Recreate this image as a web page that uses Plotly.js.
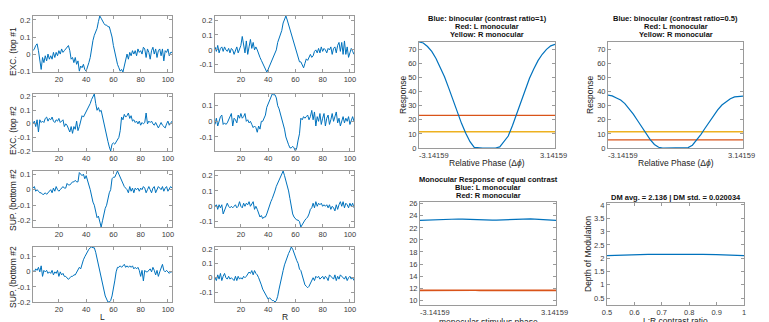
<!DOCTYPE html>
<html><head><meta charset="utf-8">
<script src="https://cdn.plot.ly/plotly-3.0.1.min.js"></script>
<style>html,body{margin:0;padding:0;background:#fff}#chart{width:769px;height:322px}</style>
</head><body><div id="chart"></div>
<script>
// ---------------- data ----------------
const excTop1L = [0.02,0.03,0.05,0.06,0.02,-0.03,-0.09,-0.02,-0.05,-0.01,
-0.04,0.00,-0.03,-0.01,-0.03,0.01,-0.02,0.01,-0.01,0.02,
0.00,0.03,0.01,0.02,0.03,0.04,0.05,0.02,-0.03,-0.02,
-0.05,-0.02,-0.06,-0.04,-0.10,-0.07,-0.08,-0.06,-0.09,-0.10,
-0.08,-0.05,-0.02,0.04,0.08,0.11,0.13,0.15,0.19,0.223,
0.21,0.19,0.18,0.17,0.17,0.16,0.16,0.13,0.10,0.05,
0.01,-0.03,-0.06,-0.08,-0.10,-0.09,-0.105,-0.07,-0.04,0.00,
-0.03,0.01,-0.01,0.02,0.00,0.02,-0.01,0.03,0.01,0.02,
0.00,0.04,0.03,-0.02,0.03,0.01,-0.03,0.02,0.04,0.00,
0.03,-0.02,0.02,0.03,-0.01,0.03,-0.04,0.02,0.01,0.03,
-0.01,0.01,0.01];
const excTop1R = [0.02,-0.01,0.03,-0.02,0.01,0.02,-0.01,0.02,0.00,-0.01,
0.01,-0.02,0.01,0.00,-0.03,-0.01,0.02,-0.02,0.01,0.03,
0.09,0.02,-0.02,0.06,-0.03,0.02,0.07,0.01,0.05,0.00,
0.02,0.00,-0.03,-0.05,-0.07,-0.09,-0.10,-0.12,-0.148,-0.13,
-0.11,-0.09,-0.07,-0.05,-0.03,0.00,0.05,0.08,0.10,0.13,
0.18,0.21,0.227,0.20,0.17,0.14,0.10,0.07,0.04,0.01,
-0.01,-0.04,-0.08,-0.08,-0.10,-0.12,-0.09,-0.06,-0.07,-0.05,
-0.03,-0.05,-0.04,-0.01,0.00,-0.02,0.01,-0.02,0.02,-0.01,
0.01,0.00,-0.02,0.01,0.00,0.02,-0.03,0.01,0.02,-0.02,
0.03,0.05,-0.01,0.05,-0.03,0.06,-0.03,0.02,-0.05,-0.02,
0.01,-0.01,-0.03];
const excTop2L = [0.00,0.02,-0.02,0.03,-0.06,0.03,0.01,0.02,0.01,0.04,
0.05,0.02,0.04,0.03,0.05,0.02,0.01,0.03,0.02,0.04,
0.01,0.02,0.03,-0.02,0.00,-0.01,-0.04,-0.06,-0.02,-0.07,
-0.02,-0.04,0.02,-0.05,-0.02,0.03,0.06,0.05,0.07,0.08,
0.10,0.12,0.15,0.18,0.20,0.22,0.15,0.10,0.12,0.09,
0.10,0.05,0.00,-0.05,-0.10,-0.13,-0.17,-0.20,-0.15,-0.14,
-0.15,-0.13,-0.12,-0.10,-0.05,0.05,0.03,0.07,0.05,0.06,
0.08,0.04,0.06,0.02,0.03,0.01,0.02,0.00,0.02,-0.01,
0.01,0.00,0.01,0.08,0.00,0.02,0.01,0.02,0.00,-0.01,
0.01,-0.01,-0.03,-0.01,0.01,-0.01,-0.02,-0.03,0.00,0.02,
-0.01,0.01,0.02];
const excTop2R = [-0.02,0.02,-0.03,0.00,0.03,0.04,-0.02,-0.01,-0.02,-0.01,
0.01,0.02,0.05,-0.03,0.02,0.01,-0.01,0.04,0.02,0.05,
0.02,0.03,0.05,0.00,0.01,-0.01,0.00,-0.02,-0.04,-0.03,
-0.04,-0.07,-0.03,-0.05,0.00,0.00,0.02,0.04,0.09,0.11,
0.13,0.16,0.175,0.17,0.17,0.15,0.10,0.08,0.05,0.02,
-0.02,-0.05,-0.10,-0.13,-0.15,-0.17,-0.17,-0.16,-0.17,-0.19,
-0.17,-0.12,-0.08,0.02,0.01,0.03,0.02,0.03,0.04,0.01,
0.03,0.07,0.01,0.06,-0.03,0.03,0.00,0.05,-0.02,0.02,
0.05,-0.03,0.02,0.04,-0.02,0.01,0.05,0.00,0.03,0.06,
-0.01,0.02,-0.03,0.01,0.03,-0.01,0.02,0.00,0.03,-0.02,
0.01,0.03,0.00];
const supBotAL = [0.01,0.02,-0.01,0.00,-0.01,-0.02,-0.02,-0.03,-0.03,-0.02,
-0.03,-0.02,-0.01,0.00,-0.02,0.01,-0.01,0.02,0.00,-0.01,
0.00,0.01,0.02,0.01,0.01,0.04,0.03,0.03,0.04,0.05,
0.05,0.06,0.05,0.05,0.11,0.10,0.09,0.10,0.07,0.09,
0.05,0.03,0.00,-0.05,-0.08,-0.10,-0.15,-0.18,-0.17,-0.20,
-0.24,-0.20,-0.15,-0.12,-0.10,-0.05,-0.02,0.00,0.07,0.08,
0.08,0.10,0.12,0.10,0.08,0.05,0.03,0.02,0.01,0.00,
-0.02,0.02,-0.01,0.01,-0.02,0.01,0.00,0.01,-0.01,0.01,
0.00,0.02,0.01,-0.02,0.00,0.02,0.00,-0.02,0.01,0.02,
-0.02,0.00,0.02,0.01,0.00,0.02,-0.01,0.01,0.02,-0.01,
0.01,0.02,0.01];
const supBotAR = [0.00,0.01,-0.02,0.01,-0.01,0.01,-0.05,-0.03,-0.01,0.02,
0.00,-0.01,0.00,-0.01,0.00,0.01,-0.01,0.00,0.03,0.00,
-0.01,0.02,0.00,0.02,0.01,0.03,0.00,0.02,0.03,-0.02,
0.00,-0.02,-0.05,-0.07,-0.06,-0.08,-0.07,-0.07,-0.05,-0.02,
0.01,0.03,0.05,0.07,0.10,0.13,0.15,0.17,0.19,0.21,
0.23,0.20,0.17,0.13,0.10,0.05,0.00,-0.05,-0.07,-0.08,
-0.09,-0.09,-0.10,-0.135,-0.12,-0.10,-0.09,-0.08,-0.07,-0.05,
-0.02,-0.01,0.02,-0.01,0.03,0.00,0.02,0.01,0.02,0.00,
0.01,0.00,0.01,-0.01,0.01,-0.02,0.00,-0.01,-0.03,0.01,
-0.02,0.01,0.03,0.00,0.03,-0.01,0.02,0.01,-0.01,0.02,
0.00,0.02,-0.01];
const supBotBL = [0.01,0.00,0.02,0.01,0.03,0.00,0.04,-0.03,0.01,0.00,
0.01,-0.01,0.00,-0.01,0.01,-0.02,0.00,-0.01,0.01,-0.03,
0.00,-0.02,-0.01,-0.03,-0.03,-0.04,-0.05,-0.04,-0.03,-0.03,
-0.02,-0.02,0.00,0.01,0.03,0.02,0.06,0.08,0.10,0.12,
0.14,0.15,0.16,0.165,0.16,0.16,0.13,0.09,0.05,0.00,
-0.05,-0.09,-0.13,-0.16,-0.18,-0.20,-0.20,-0.19,-0.16,-0.12,
-0.06,0.00,0.03,0.03,0.04,0.03,0.04,0.05,0.03,0.04,
0.03,0.04,0.03,0.04,0.02,0.03,0.02,0.03,0.01,-0.03,
0.01,-0.06,0.01,0.00,0.00,0.01,0.02,0.00,0.03,0.01,
-0.02,0.01,-0.03,0.00,0.02,0.05,0.01,0.00,0.01,0.00,
-0.01,0.00,0.00];
const supBotBR = [0.00,-0.02,0.02,-0.01,0.03,-0.02,0.01,0.03,0.00,-0.01,
0.01,-0.01,0.00,-0.01,-0.02,0.01,-0.02,0.01,-0.01,0.00,
-0.01,0.01,0.00,0.01,0.03,0.04,0.03,0.05,0.02,0.05,
0.03,0.02,0.00,-0.02,-0.05,-0.08,-0.10,-0.12,-0.14,-0.15,
-0.14,-0.15,-0.16,-0.16,-0.17,-0.16,-0.13,-0.08,-0.03,0.00,
0.05,0.09,0.12,0.15,0.17,0.19,0.215,0.20,0.17,0.14,
0.12,0.10,0.06,0.05,0.01,-0.03,-0.05,-0.06,-0.07,-0.06,
-0.04,-0.03,0.00,-0.02,0.01,0.00,0.01,-0.01,0.00,0.01,
-0.01,0.01,0.00,-0.02,0.02,0.01,0.00,-0.01,0.02,-0.02,
0.01,-0.01,0.02,0.01,0.00,-0.01,0.01,-0.02,0.00,0.01,
-0.01,0.00,-0.02];

const leftTitles = ['EXC. (top #1', 'EXC. (top #2', 'SUP. (bottom #2', 'SUP. (bottom #2'];
const leftTickVals = [-0.2, -0.1, 0, 0.1, 0.2];
const leftTickText = ['-0.2', '-0.1', '0', '0.1', '0.2'];
const idxTicks = [20, 40, 60, 80, 100];

const phase = [-3.1416,-2.9452,-2.7489,-2.5525,-2.3562,-2.1598,-1.9635,-1.7671,-1.5708,-1.3744,-1.1781,-0.9817,-0.7854,-0.5890,-0.3927,-0.1963,0,0.1963,0.3927,0.5890,0.7854,0.9817,1.1781,1.3744,1.5708,1.7671,1.9635,2.1598,2.3562,2.5525,2.7489,2.9452,3.1416];
const binocRatio1 = [75.2,74.5,72,68.5,63.5,57.5,50.5,42.5,34,25,17.5,10.5,4.5,0.5,0,0,0,0,0,0.8,4.5,8.5,16,24.5,33,41.5,49.5,56,62,66.5,70,72.5,73.5];
const binocRatio05 = [37.5,37,35.5,34,31.5,28,24,19.5,15,10.5,6,2.5,0.5,0,0,0,0,0,0,0.3,2,5.5,9.5,14,18.5,23,27,30.5,33,35,36.3,36.8,36.8];
const phaseEnds = [-3.1416, 3.1416];
const lMonoA = [23.2, 23.2];
const rMonoA = [11.5, 11.5];
const lMonoB = [5.8, 5.8];
const rMonoB = [11.5, 11.5];
const monoL = [23.25,23.28,23.32,23.37,23.42,23.46,23.49,23.5,23.5,23.48,23.45,23.41,23.37,23.33,23.3,23.28,23.28,23.28,23.3,23.33,23.37,23.41,23.45,23.48,23.5,23.5,23.49,23.46,23.42,23.37,23.32,23.28,23.25];
const monoR = [11.62,11.63,11.64,11.65,11.66,11.67,11.67,11.68,11.68,11.67,11.67,11.66,11.65,11.64,11.63,11.63,11.63,11.63,11.63,11.64,11.65,11.66,11.67,11.67,11.68,11.68,11.67,11.67,11.66,11.65,11.64,11.63,11.62];
const phaseTickVals = [-3.14159, 3.14159];
const phaseTickText = ['-3.14159', '3.14159'];
const contrastRatio = [0.5,0.55,0.6,0.65,0.7,0.75,0.8,0.85,0.9,0.95,1.0];
const depthMod = [2.10,2.12,2.13,2.14,2.145,2.15,2.15,2.145,2.135,2.12,2.10];

// ---------------- layout helpers ----------------
const W = 769, H = 322;
const FONT = 'Liberation Sans, Arial, Helvetica, sans-serif';
const LINE = '#9a9a9a', TXT = '#3a3a3a';
const BLUE = '#0072BD', RED = '#D95319', YEL = '#EDB120';
function xd(l, r) { return [l / W, r / W]; }
function yd(t, b) { return [1 - b / H, 1 - t / H]; }
function axis(dom, anchor, extra) {
  return Object.assign({
    domain: dom, anchor: anchor, showline: true, mirror: 'ticks', linecolor: LINE, linewidth: 1,
    ticks: 'inside', ticklen: 3, tickwidth: 1, tickcolor: LINE, showgrid: false, zeroline: false,
    tickfont: { family: FONT, size: 7.5, color: TXT }, fixedrange: true
  }, extra);
}
function ann(text, xpx, ypx, opts) {
  return Object.assign({ text: text, xref: 'paper', yref: 'paper', x: xpx / W, y: 1 - ypx / H,
    showarrow: false, xanchor: 'center', yanchor: 'middle',
    font: { family: FONT, size: 8.5, color: '#222' } }, opts || {});
}

const leftSeries = [excTop1L, excTop1R, excTop2L, excTop2R, supBotAL, supBotAR, supBotBL, supBotBR];
const colPx = [[33, 172], [215, 354]];
const rowPx = [[16, 72], [94, 151], [171, 227], [247, 302]];

const data = [];
const layout = {
  width: W, height: H, margin: { l: 0, r: 0, t: 0, b: 0 }, showlegend: false,
  paper_bgcolor: '#fff', plot_bgcolor: '#fff', font: { family: FONT }, annotations: []
};

leftSeries.forEach((ys, i) => {
  const n = i + 1, row = Math.floor(i / 2), col = i % 2;
  data.push({ type: 'scatter', mode: 'lines', y: ys, x0: 1, dx: 1, xaxis: 'x' + n, yaxis: 'y' + n,
    line: { color: BLUE, width: 1 } });
  layout['xaxis' + n] = axis(xd(colPx[col][0], colPx[col][1]), 'y' + n,
    { range: [1, ys.length], tickvals: idxTicks, ticktext: idxTicks.map(String) });
  layout['yaxis' + n] = axis(yd(rowPx[row][0], rowPx[row][1]), 'x' + n,
    { range: [Math.min(...ys), Math.max(...ys)], tickvals: leftTickVals, ticktext: leftTickText });
});
const leftTitleY = [52, 131, 200, 277];
leftTitles.forEach((t, r) => layout.annotations.push(ann(t, 13, leftTitleY[r], { textangle: -90 })));
layout.annotations.push(ann('L', 102, 317));
layout.annotations.push(ann('R', 285, 317));

// A
data.push({ type: 'scatter', mode: 'lines', x: phaseEnds, y: lMonoA, xaxis: 'x9', yaxis: 'y9', line: { color: RED, width: 1.2 } });
data.push({ type: 'scatter', mode: 'lines', x: phaseEnds, y: rMonoA, xaxis: 'x9', yaxis: 'y9', line: { color: YEL, width: 1.6 } });
data.push({ type: 'scatter', mode: 'lines', x: phase, y: binocRatio1, xaxis: 'x9', yaxis: 'y9', line: { color: BLUE, width: 1.2 } });
// B
data.push({ type: 'scatter', mode: 'lines', x: phaseEnds, y: lMonoB, xaxis: 'x10', yaxis: 'y10', line: { color: RED, width: 1.2 } });
data.push({ type: 'scatter', mode: 'lines', x: phaseEnds, y: rMonoB, xaxis: 'x10', yaxis: 'y10', line: { color: YEL, width: 1.6 } });
data.push({ type: 'scatter', mode: 'lines', x: phase, y: binocRatio05, xaxis: 'x10', yaxis: 'y10', line: { color: BLUE, width: 1.2 } });
// C
data.push({ type: 'scatter', mode: 'lines', x: phase, y: monoL, xaxis: 'x11', yaxis: 'y11', line: { color: BLUE, width: 1.2 } });
data.push({ type: 'scatter', mode: 'lines', x: phase, y: monoR, xaxis: 'x11', yaxis: 'y11', line: { color: RED, width: 1.6 } });
// D
data.push({ type: 'scatter', mode: 'lines', x: contrastRatio, y: depthMod, xaxis: 'x12', yaxis: 'y12', line: { color: BLUE, width: 1.2 } });
data.forEach(t => t.hoverinfo = 'skip');

// phase axes: tick marks from the axis, the two end labels placed on the axis scale as annotations
const phaseAxis = { range: [-3.1416, 3.1416], tickvals: phaseTickVals, showticklabels: false };
layout.xaxis9 = axis(xd(419, 555), 'y9', phaseAxis);
layout.yaxis9 = axis(yd(42, 148), 'x9', { range: [0, 75.2], dtick: 10, tick0: 0 });
layout.xaxis10 = axis(xd(608, 743), 'y10', phaseAxis);
layout.yaxis10 = axis(yd(42, 148), 'x10', { range: [0, 75.2], dtick: 10, tick0: 0 });
layout.xaxis11 = axis(xd(420, 556), 'y11', phaseAxis);
layout.yaxis11 = axis(yd(202, 305), 'x11', { range: [9.2, 26.3], dtick: 2, tick0: 0 });
layout.xaxis12 = axis(xd(607, 744), 'y12', { range: [0.5, 1], dtick: 0.1, tick0: 0.5 });
layout.yaxis12 = axis(yd(203, 305), 'x12', { range: [0.24, 4.075], dtick: 0.5, tick0: 0 });

const tickFont = { family: FONT, size: 7.5, color: TXT };
[['x9', 155], ['x10', 155], ['x11', 312]].forEach(([xr, ypx]) => {
  layout.annotations.push({ text: phaseTickText[0], xref: xr, yref: 'paper', x: phaseTickVals[0], y: 1 - ypx / H,
    xanchor: 'left', yanchor: 'middle', xshift: -2, showarrow: false, font: tickFont });
  layout.annotations.push({ text: phaseTickText[1], xref: xr, yref: 'paper', x: phaseTickVals[1], y: 1 - ypx / H,
    xanchor: 'center', yanchor: 'middle', xshift: -2, showarrow: false, font: tickFont });
});

const bold = { family: FONT, size: 7.5, color: '#111' };
function titleLine(t, x, y) { return ann('<b>' + t + '</b>', x, y, { font: bold }); }
layout.annotations.push(titleLine('Blue: binocular (contrast ratio=1)', 487, 18));
layout.annotations.push(titleLine('Red: L monocular', 487, 26.5));
layout.annotations.push(titleLine('Yellow: R monocular', 487, 34.5));
layout.annotations.push(titleLine('Blue: binocular (contrast ratio=0.5)', 675.5, 18));
layout.annotations.push(titleLine('Red: L monocular', 675.5, 26.5));
layout.annotations.push(titleLine('Yellow: R monocular', 675.5, 34.5));
layout.annotations.push(titleLine('Monocular Response of equal contrast', 488, 179.5));
layout.annotations.push(titleLine('Blue: L monocular', 488, 187.5));
layout.annotations.push(titleLine('Red: R monocular', 488, 195));
layout.annotations.push(titleLine('DM avg. = 2.136 | DM std. = 0.020034', 675.5, 197));

layout.annotations.push(ann('Relative Phase (Δ<i>ϕ</i>)', 487, 163));
layout.annotations.push(ann('Relative Phase (Δ<i>ϕ</i>)', 675.5, 163));
layout.annotations.push(ann('monocular stimulus phase', 488, 322));
layout.annotations.push(ann('L:R contrast ratio', 675.5, 321));
layout.annotations.push(ann('Response', 403, 95, { textangle: -90 }));
layout.annotations.push(ann('Response', 590, 95, { textangle: -90 }));
layout.annotations.push(ann('Depth of Modulation', 588, 254, { textangle: -90 }));

Plotly.newPlot('chart', data, layout, { staticPlot: true, displayModeBar: false });
</script>
</body></html>
